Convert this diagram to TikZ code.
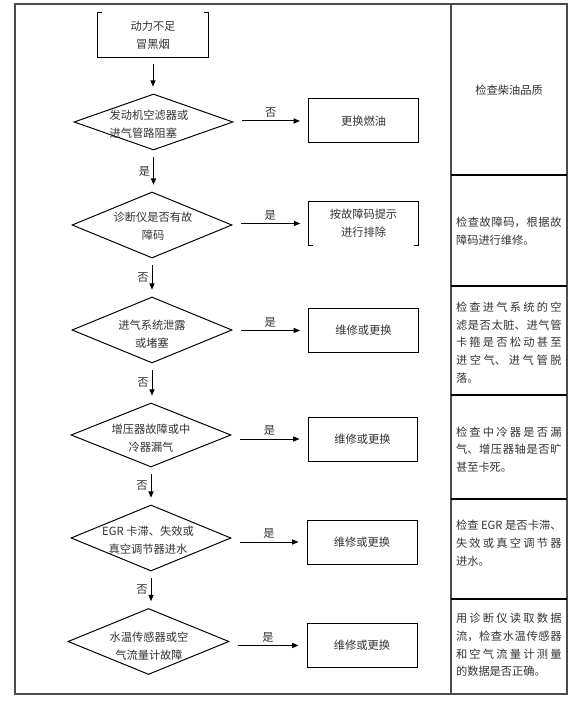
\documentclass[tikz,border=0pt]{standalone}
\usepackage{fontspec}
\newfontfamily\cjk{Noto Sans CJK SC}
\usetikzlibrary{shapes.geometric,arrows.meta}
\XeTeXlinebreaklocale "zh"
\XeTeXlinebreakskip=0pt plus 2pt
\begin{document}
\begin{tikzpicture}[
        every node/.style={font=\cjk\fontsize{8pt}{12.6pt}\selectfont, text=black!80},
        decision/.style={draw=black, text=black, diamond, line width=0.7pt, minimum width=4cm, minimum height=1.65cm, inner sep=0pt},
        dtext/.style={align=center, inner sep=0pt},
        action/.style={draw=black, line width=0.7pt, minimum width=2.75cm, minimum height=1.1cm, align=center},
        openbox/.style={minimum width=2.75cm, minimum height=1.1cm, align=center},
        note/.style={text width=2.64cm, align=justify, inner sep=0pt},
        flow/.style={line width=0.7pt, -{Triangle[length=4.5pt,width=3.6pt]}, shorten <=0.17cm, shorten >=0.17cm},
        hflow/.style={flow, shorten <=0.225cm, shorten >=0.2cm},
        lab/.style={inner sep=2pt},
        frame/.style={line width=0.9pt, black!70},
        rowline/.style={line width=0.8pt}
    ]
    \useasboundingbox (0,0) rectangle (14.4,17.525);

    % Outer boundary and right column
    \draw[frame] (0.375,0.175) rectangle (14.175,17.425);
    \draw[frame] (11.275,0.175) -- (11.275,17.425);
    \foreach \y in {13.15,10.375,7.65,5.05,2.55}
        \draw[rowline] (11.275,\y) -- (14.175,\y);

    % Start
    \node[openbox] (start) at (3.825,16.65) {动力不足\\冒黑烟};
    \draw[line width=0.7pt] ([xshift=0.1cm]start.north west) -- (start.north west) -- (start.south west)
        -- (start.south east) -- (start.north east) -- ([xshift=-0.1cm]start.north east);

    % Decisions
    \node[decision, minimum width=3.975cm, minimum height=1.4cm] (d1) at (3.8375,14.475) {};
    \node[dtext, align=left] (t1) at (3.725,14.4125) {发动机空滤器或\\进气管路阻塞};
    \node[decision] (d2) at (3.8,11.9) {};
    \node[dtext] (t2) at (3.825,11.875) {诊断仪是否有故\\障码};
    \node[decision] (d3) at (3.8,9.275) {};
    \node[dtext] (t3) at (3.8,9.1625) {进气系统泄露\\或堵塞};
    \node[decision, minimum height=1.6cm] (d4) at (3.775,6.65) {};
    \node[dtext] (t4) at (3.775,6.575) {增压器故障或中\\冷器漏气};
    \node[decision] (d5) at (3.775,4.075) {};
    \node[dtext] (t5) at (3.7,4.025) {EGR 卡滞、失效或\\真空调节器进水};
    \node[decision, minimum width=4.025cm] (d6) at (3.7125,1.4875) {};
    \node[dtext] (t6) at (3.725,1.375) {水温传感器或空\\气流量计故障};

    % Actions
    \node[action] (b1) at (9.0875,14.5) {更换燃油};
    \node[openbox] (b2) at (9.0875,11.9375) {按故障码提示\\进行排除};
    \draw[line width=0.7pt] ([xshift=0.12cm]b2.south west) -- (b2.south west) -- (b2.north west)
        -- (b2.north east) -- (b2.south east) -- ([xshift=-0.12cm]b2.south east);
    \node[action] (b3) at (9.0875,9.2625) {维修或更换};
    \node[action, minimum width=2.725cm] (b4) at (9.0625,6.55) {维修或更换};
    \node[action] (b5) at (9.05,3.975) {维修或更换};
    \node[action] (b6) at (9.05,1.3875) {维修或更换};

    % Notes
    \node (n1) at (12.725,15.275) {检查柴油品质};
    \node[note] (n2) at (12.72,11.75) {检查故障码，根据故\linebreak 障码进行维修。};
    \node[note] (n3) at (12.72,8.9625) {检查进气系统的空\linebreak 滤是否太脏、进气管\linebreak 卡箍是否松动甚至\linebreak 进空气、进气管脱\linebreak 落。};
    \node[note] (n4) at (12.72,6.2875) {检查中冷器是否漏\linebreak 气、增压器轴是否旷\linebreak 甚至卡死。};
    \node[note] (n5) at (12.72,3.95) {检查 EGR 是否卡滞、\linebreak 失效或真空调节器\linebreak 进水。};
    \node[note] (n6) at (12.72,1.4) {用诊断仪读取数据\linebreak 流，检查水温传感器\linebreak 和空气流量计测量\linebreak 的数据是否正确。};

    % Arrows
    \draw[flow] (start.south) -- (start.south |- d1.north);
    \draw[hflow] (d1.east |- b1.west) -- node[above, lab] {否} (b1.west);
    \draw[flow] (d1.south) -- node[left, lab] {是} (d1.south |- d2.north);
    \draw[hflow] (d2.east |- b2.west) -- node[above, lab] {是} (b2.west);
    \draw[flow] (d2.south) -- node[left, lab] {否} (d2.south |- d3.north);
    \draw[hflow] (d3.east |- b3.west) -- node[above, lab] {是} (b3.west);
    \draw[flow] (d3.south) -- node[left, lab] {否} (d3.south |- d4.north);
    \draw[hflow] (d4.east |- b4.west) -- node[above, lab] {是} (b4.west);
    \draw[flow] (d4.south) -- node[left, lab] {否} (d4.south |- d5.north);
    \draw[hflow] (d5.east |- b5.west) -- node[above, lab] {是} (b5.west);
    \draw[flow] (d5.south) -- node[left, lab] {否} (d5.south |- d6.north);
    \draw[hflow] (d6.east |- b6.west) -- node[above, lab] {是} (b6.west);

\end{tikzpicture}
\end{document}
